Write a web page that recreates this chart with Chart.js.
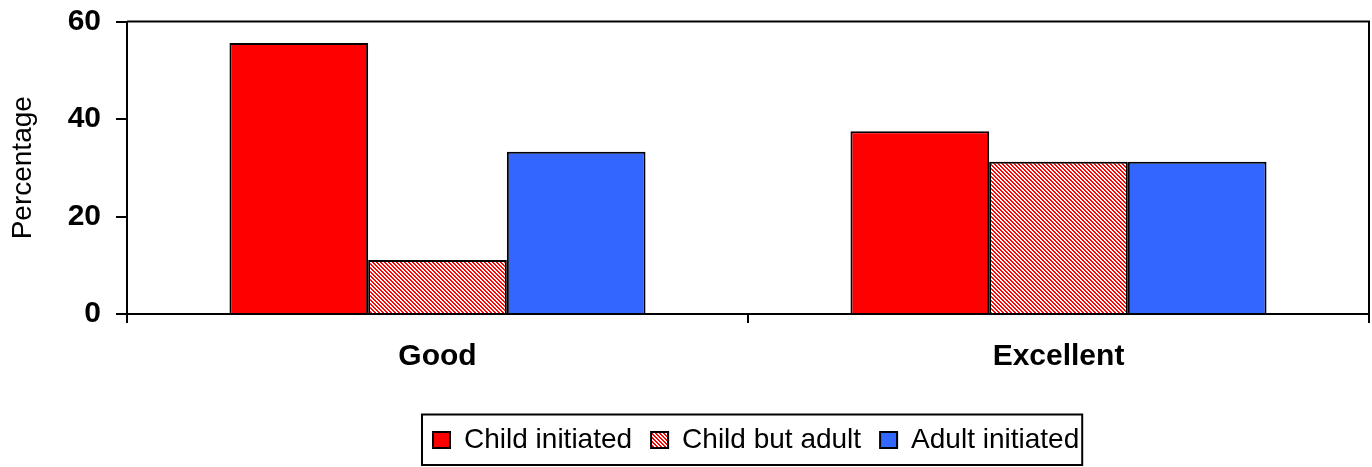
<!DOCTYPE html>
<html>
<head>
<meta charset="utf-8">
<script src="https://cdn.jsdelivr.net/npm/chart.js@4"></script>
<style>
  html, body { margin: 0; padding: 0; background: #fff; }
  #wrap { width: 1372px; height: 467px; }
</style>
</head>
<body>
<div id="wrap"><canvas id="myChart"></canvas></div>
<script>
// Data
const categories = ['Good', 'Excellent'];
const childInitiated = [55.6, 37.5];
const childButAdult = [11.1, 31.25];
const adultInitiated = [33.3, 31.25];
const yTicks = [0, 20, 40, 60];

const FONT = "'Liberation Sans', Arial, sans-serif";
Chart.defaults.font.family = FONT;
Chart.defaults.color = '#000';

// Red/white diagonal hatch for the middle series (crisp pixel stripes)
function makeHatch() {
    const n = 4;
    const c = document.createElement('canvas');
    c.width = n; c.height = n;
    const g = c.getContext('2d');
    for (let y = 0; y < n; y++) {
        for (let x = 0; x < n; x++) {
            const k = ((x - y) % n + n) % n;
            g.fillStyle = k < 2 ? '#ffffff' : '#ff0000';
            g.fillRect(x, y, 1, 1);
        }
    }
    return g.createPattern(c, 'repeat');
}
const hatch = makeHatch();

// Put the legend where it sits in the picture, draw its frame and the plot frame
const frames = {
    id: 'frames',
    afterLayout(chart) {
        const lg = chart.legend;
        const p = lg.options.labels.padding;
        const curLeft = (lg.left + p + lg.right - lg.lineWidths[0]) / 2;
        const dx = 433 - curLeft;
        lg.left += dx; lg.right += dx;
        const dy = (426 - p) - lg.top;
        lg.top += dy; lg.bottom += dy;
    },
    afterDraw(chart) {
        const ctx = chart.ctx;
        const a = chart.chartArea;
        ctx.save();
        ctx.strokeStyle = '#000';
        ctx.lineWidth = 2;
        ctx.beginPath();
        ctx.moveTo(a.left, a.top);
        ctx.lineTo(a.right, a.top);
        ctx.lineTo(a.right, a.bottom);
        ctx.stroke();

        const boxes = chart.legend.legendHitBoxes;
        if (boxes && boxes.length) {
            let l = Infinity, r = -Infinity, t = Infinity;
            boxes.forEach(h => {
                l = Math.min(l, h.left); r = Math.max(r, h.left + h.width);
                t = Math.min(t, h.top);
            });
            const top = t - 11.5;
            ctx.strokeRect(l - 11, top, (r - l) + 14, 465 - top);
        }
        ctx.restore();
    }
};

const ctx = document.getElementById('myChart').getContext('2d');
const myChart = new Chart(ctx, {
    type: 'bar',
    data: {
        labels: categories,
        datasets: [{
            label: 'Child initiated',
            data: childInitiated,
            backgroundColor: '#ff0000',
            borderColor: '#000',
            borderWidth: 2
        }, {
            label: 'Child but adult',
            data: childButAdult,
            backgroundColor: hatch,
            borderColor: '#000',
            borderWidth: 2
        }, {
            label: 'Adult initiated',
            data: adultInitiated,
            backgroundColor: '#3366ff',
            borderColor: '#000',
            borderWidth: 2
        }]
    },
    options: {
        responsive: true,
        maintainAspectRatio: false,
        animation: false,
        categoryPercentage: 0.67,
        barPercentage: 1.0,
        layout: { padding: { left: 0, right: 3, top: 21.5, bottom: 0 } },
        plugins: {
            legend: {
                position: 'bottom',
                labels: {
                    color: '#000',
                    font: { family: FONT, size: 28 },
                    boxWidth: 17,
                    boxHeight: 16,
                    padding: 19,
                    useBorderRadius: false
                }
            },
            tooltip: { enabled: false }
        },
        scales: {
            x: {
                grid: {
                    offset: true,
                    drawOnChartArea: false,
                    drawTicks: true,
                    tickLength: 9,
                    color: '#000',
                    lineWidth: 2
                },
                border: { color: '#000', width: 2 },
                ticks: {
                    color: '#000',
                    padding: 16,
                    font: { family: FONT, size: 30, weight: 'bold' }
                },
                afterFit(scale) { scale.height = 96; }
            },
            y: {
                min: 0,
                max: 60,
                afterBuildTicks(scale) {
                    scale.ticks = yTicks.map(v => ({ value: v }));
                },
                grid: {
                    drawOnChartArea: false,
                    drawTicks: true,
                    tickLength: 11,
                    color: '#000',
                    lineWidth: 2
                },
                border: { color: '#000', width: 2 },
                ticks: {
                    color: '#000',
                    padding: 15,
                    font: { family: FONT, size: 30, weight: 'bold' }
                },
                title: {
                    display: true,
                    text: 'Percentage',
                    color: '#000',
                    padding: { top: 6.5, bottom: 0 },
                    font: { family: FONT, size: 28 }
                },
                afterFit(scale) {
                    scale.width = 127;
                    scale.paddingTop = 0;
                    scale.paddingBottom = 0;
                }
            }
        }
    },
    plugins: [frames]
});
</script>
</body>
</html>
